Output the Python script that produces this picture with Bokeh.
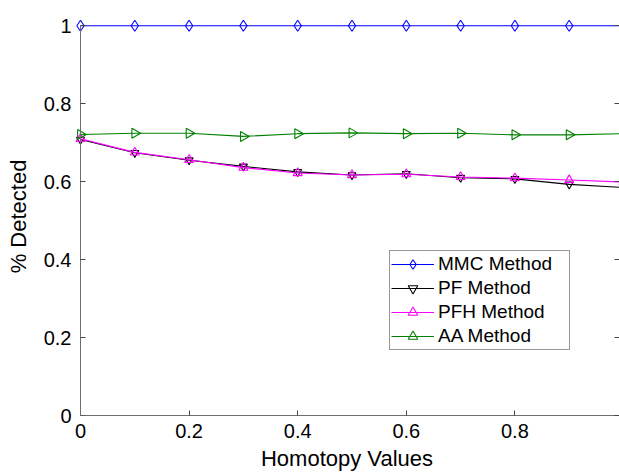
import math
from bokeh.plotting import figure
from bokeh.models import Range1d, LinearAxis, FixedTicker, CustomJSTickFormatter, Legend, LegendItem
from bokeh.embed import file_html
from bokeh.resources import INLINE

homotopy = [0.0, 0.1, 0.2, 0.3, 0.4, 0.5, 0.6, 0.7, 0.8, 0.9, 1.0]
mmc = [1.0, 1.0, 1.0, 1.0, 1.0, 1.0, 1.0, 1.0, 1.0, 1.0, 1.0]
pf = [0.708, 0.674, 0.655, 0.639, 0.625, 0.617, 0.620, 0.610, 0.607, 0.593, 0.585]
pfh = [0.710, 0.675, 0.656, 0.636, 0.622, 0.617, 0.619, 0.612, 0.609, 0.604, 0.599]
aa = [0.721, 0.724, 0.724, 0.716, 0.723, 0.725, 0.723, 0.724, 0.720, 0.720, 0.723]
x_ticks = [0, 0.2, 0.4, 0.6, 0.8, 1.0]
y_ticks = [0, 0.2, 0.4, 0.6, 0.8, 1.0]

FONT = "Liberation Sans"

p = figure(width=619, height=474, output_backend="svg", toolbar_location=None,
           x_range=Range1d(-6 / 543, 539 / 543), y_range=Range1d(0, 398 / 389.8),
           min_border_left=74, min_border_right=0, min_border_top=17, min_border_bottom=59)
p.outline_line_color = None
p.xgrid.visible = False
p.ygrid.visible = False
p.background_fill_color = "white"
p.border_fill_color = "white"

fmt = CustomJSTickFormatter(code="return String(Math.round(tick*10)/10);")
blank = CustomJSTickFormatter(code="return '';")

def style(ax):
    ax.major_tick_in = 5
    ax.major_tick_out = 0
    ax.minor_tick_line_color = None
    ax.axis_line_color = "#6e6e6e"
    ax.major_tick_line_color = "#444444"
    ax.major_label_text_font = FONT
    ax.major_label_text_font_size = "20px"
    ax.major_label_text_color = "black"
    ax.axis_label_text_font = FONT
    ax.axis_label_text_font_size = "22px"
    ax.axis_label_text_font_style = "normal"
    ax.axis_label_text_color = "black"
    ax.bounds = (0, 1)

# bottom axis
xa = p.xaxis[0]
style(xa)
xa.ticker = FixedTicker(ticks=x_ticks)
xa.formatter = fmt
xa.axis_label = "Homotopy Values"
xa.major_label_standoff = 8
xa.axis_label_standoff = 5

# left axis: labels only (at the frame edge)
ya = p.yaxis[0]
style(ya)
ya.ticker = FixedTicker(ticks=y_ticks)
ya.formatter = fmt
ya.axis_label = "% Detected"
ya.axis_line_color = None
ya.major_tick_line_color = None
ya.major_label_standoff = 3
ya.axis_label_standoff = 10

# y axis line and ticks at x = 0
yline = LinearAxis(ticker=FixedTicker(ticks=y_ticks), formatter=blank, fixed_location=0)
style(yline)
yline.major_label_standoff = 0
yline.major_label_text_font_size = "1px"
p.add_layout(yline, "left")

# right box ticks
right = LinearAxis(ticker=FixedTicker(ticks=y_ticks), formatter=blank)
right.major_tick_in = 5
right.major_tick_out = 0
right.minor_tick_line_color = None
right.axis_line_color = None
right.major_tick_line_color = "#444444"
right.major_label_standoff = 0
right.major_label_text_font_size = "1px"
p.add_layout(right, "right")

series = [
    ("MMC Method", mmc, "#0000ff", "diamond", 11, 0.0),
    ("PF Method", pf, "#000000", "inverted_triangle", 8, 0.0),
    ("PFH Method", pfh, "#ff00ff", "triangle", 9, 0.0),
    ("AA Method", aa, "#008000", "triangle", 10, -math.pi / 2),
]

items = []
for name, ys, color, marker, size, angle in series:
    r1 = p.line(homotopy, ys, line_color=color, line_width=1.1)
    r2 = p.scatter(homotopy, ys, marker=marker, size=size, angle=angle,
                   fill_color=None, line_color=color, line_width=1.1)
    items.append(LegendItem(label=name, renderers=[r1, r2]))

legend = Legend(items=items, location=(315, 65))
legend.label_text_font = FONT
legend.label_text_font_size = "19px"
legend.label_text_color = "black"
legend.glyph_width = 43
legend.glyph_height = 24
legend.label_height = 24
legend.label_width = 130
legend.label_standoff = 4
legend.padding = 1
legend.spacing = 0
legend.margin = 0
legend.border_line_color = "#333333"
legend.border_line_width = 1
legend.background_fill_color = "white"
legend.background_fill_alpha = 1
p.add_layout(legend, "center")

open("out.html", "w").write(file_html(p, INLINE))
